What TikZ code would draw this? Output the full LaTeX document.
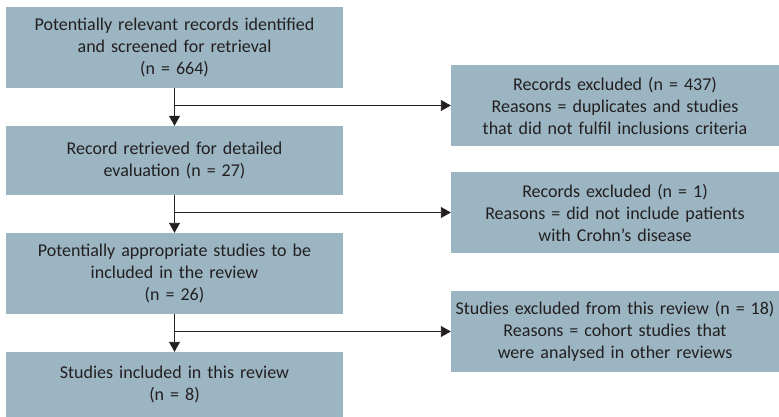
\documentclass[tikz,border=0pt]{standalone}
\usepackage{fontspec}
\setmainfont{Carlito}
\usetikzlibrary{arrows.meta}
\definecolor{boxblue}{RGB}{155,181,194}
\definecolor{inkgray}{RGB}{35,31,32}

\begin{document}
\begin{tikzpicture}[x=1pt,y=-1pt,
  box/.style={fill=boxblue, inner sep=0pt, align=center, text=inkgray,
    font=\fontsize{18}{22}\selectfont},
  leftbox/.style={box, minimum width=337pt, text width=334pt},
  rightbox/.style={box, minimum width=328pt, text width=327pt, minimum height=81pt},
  flow/.style={draw=inkgray, line width=0.9pt, -{Triangle[length=10pt,width=11pt]}}]
\useasboundingbox (0,0) rectangle (779,417);
% main column
\node[leftbox, minimum height=81pt] (found) at (174.5,47.5)
  {Potentially relevant records identified\\and screened for retrieval\\(n = 664)};
\node[leftbox, minimum height=69pt] (retrieved) at (174.5,160.5)
  {Record retrieved for detailed\\evaluation (n = 27)};
\node[leftbox, minimum height=81pt] (eligible) at (174.5,273.5)
  {Potentially appropriate studies to be\\included in the review\\(n = 26)};
\node[leftbox, minimum height=65pt] (included) at (174.5,384.5)
  {Studies included in this review\\(n = 8)};
% exclusions
\node[rightbox] (excl1) at (615,105.5)
  {Records excluded (n = 437)\\Reasons = duplicates and studies\\that did not fulfil inclusions criteria};
\node[rightbox] (excl2) at (615,212.5)
  {Records excluded (n = 1)\\Reasons = did not include patients\\with Crohn’s disease};
\node[rightbox] (excl3) at (615,331.5)
  {Studies excluded from this review (n = 18)\\Reasons = cohort studies that\\were analysed in other reviews};
% arrows
\draw[flow] (found.south) -- (retrieved.north);
\draw[flow] (retrieved.south) -- (eligible.north);
\draw[flow] (eligible.south) -- (included.north);
\draw[flow] (found.south |- excl1.west) -- (excl1.west);
\draw[flow] (retrieved.south |- excl2.west) -- (excl2.west);
\draw[flow] (eligible.south |- excl3.west) -- (excl3.west);
\end{tikzpicture}
\end{document}
